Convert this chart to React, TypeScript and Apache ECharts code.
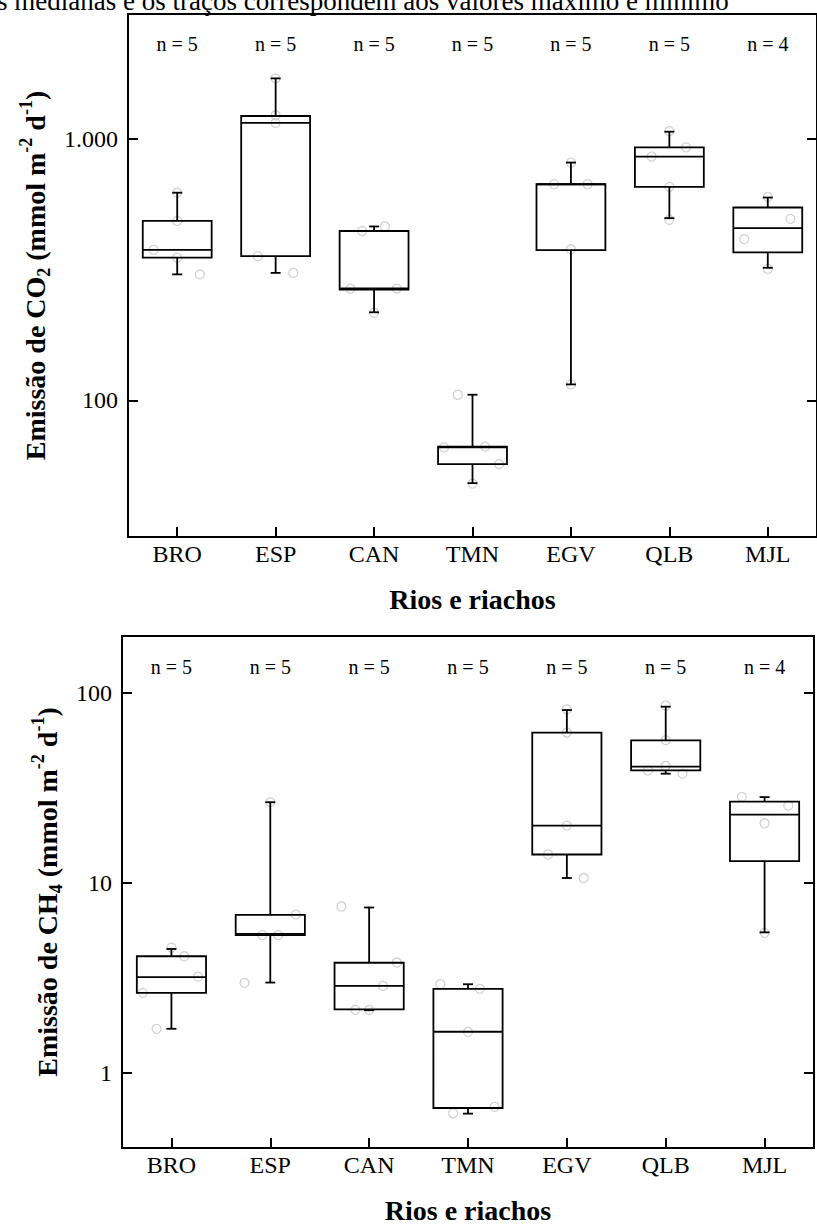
import React, { useEffect, useRef } from 'react';
import * as echarts from 'echarts';

const FONT = '"Liberation Serif", "Times New Roman", serif';

// Sites (rivers and streams)
const categories = ['BRO', 'ESP', 'CAN', 'TMN', 'EGV', 'QLB', 'MJL'];
const sampleSizes = [5, 5, 5, 5, 5, 5, 4];

// CO2 emission (mmol m-2 d-1): box statistics per site
const co2Min = [303, 307, 217, 48.2, 115, 497, 321];
const co2Q1 = [351, 356, 265, 57, 375, 655, 368];
const co2Median = [376, 1151, 268, 66, 670, 855, 455];
const co2Q3 = [485, 1222, 444, 66.5, 670, 927, 546];
const co2Max = [622, 1702, 462, 105, 811, 1064, 596];
// individual CO2 measurements and their horizontal spread (fraction of a band)
const co2Points = [
  [622, 485, 376, 351, 303],
  [1702, 1230, 1150, 356, 307],
  [462, 444, 267, 267, 216],
  [105, 66, 66.5, 57, 48],
  [811, 670, 670, 378, 115],
  [1070, 927, 855, 655, 490],
  [600, 494, 413, 318],
];
const co2Jitter = [
  [0, 0, -0.24, 0, 0.23],
  [0, 0, 0, -0.18, 0.18],
  [0.11, -0.12, -0.24, 0.23, 0],
  [-0.15, -0.29, 0.13, 0.27, 0],
  [0, -0.17, 0.17, 0, 0],
  [0, 0.17, -0.18, 0, 0],
  [0, 0.23, -0.24, 0],
];

// CH4 emission (mmol m-2 d-1): box statistics per site
const ch4Min = [1.7, 2.98, 2.13, 0.607, 10.6, 37.6, 5.48];
const ch4Q1 = [2.63, 5.3, 2.15, 0.65, 14.1, 39.1, 13.0];
const ch4Median = [3.18, 5.38, 2.86, 1.64, 20.0, 41.0, 22.9];
const ch4Q3 = [4.1, 6.78, 3.79, 2.76, 61.9, 56.4, 26.8];
const ch4Max = [4.48, 26.6, 7.41, 2.92, 81.4, 84.8, 28.3];
const ch4Points = [
  [4.55, 4.1, 3.2, 2.63, 1.7],
  [26.6, 6.8, 5.3, 5.3, 2.97],
  [7.5, 3.8, 2.86, 2.14, 2.14],
  [2.92, 2.76, 1.64, 0.66, 0.61],
  [82, 62, 20, 14.1, 10.6],
  [86, 56.5, 41.3, 39, 37.6],
  [28.4, 25.5, 20.6, 5.45],
];
const ch4Jitter = [
  [0, 0.13, 0.27, -0.29, -0.15],
  [0, 0.26, -0.08, 0.08, -0.26],
  [-0.28, 0.28, 0.14, -0.14, 0],
  [-0.28, 0.12, 0, 0.27, -0.15],
  [0, 0, 0, -0.19, 0.17],
  [0, 0, 0, -0.18, 0.17],
  [-0.23, 0.24, 0, 0],
];

// Axis ranges and tick labels
const co2Range = [30, 3000];
const co2TickValues = [100, 1000];
const co2TickLabels = ['100', '1.000'];
const ch4Range = [0.4, 200];
const ch4TickValues = [1, 10, 100];
const ch4TickLabels = ['1', '10', '100'];

const captionText = 's medianas e os traços correspondem aos valores máximo e mínimo';

function boxRows(mn: number[], q1: number[], md: number[], q3: number[], mx: number[]) {
  return categories.map((_, i) => [i, mn[i], q1[i], md[i], q3[i], mx[i]]);
}

function pointRows(points: number[][], jitter: number[][]) {
  const rows: number[][] = [];
  points.forEach((vals, i) => vals.forEach((v, k) => rows.push([i + jitter[i][k], v])));
  return rows;
}

const renderBox = (params: any, api: any) => {
  const i = api.value(0);
  const vMin = api.value(1);
  const vQ1 = api.value(2);
  const vMed = api.value(3);
  const vQ3 = api.value(4);
  const vMax = api.value(5);
  const x = api.coord([i, vMed])[0];
  const yMin = api.coord([i, vMin])[1];
  const yQ1 = api.coord([i, vQ1])[1];
  const yMed = api.coord([i, vMed])[1];
  const yQ3 = api.coord([i, vQ3])[1];
  const yMax = api.coord([i, vMax])[1];
  const half = api.size([1, 0], [i, vMed])[0] * 0.35;
  const cap = 5;
  const ln = { stroke: '#000', lineWidth: 1.8 };
  return {
    type: 'group',
    children: [
      { type: 'line', shape: { x1: x, y1: yQ3, x2: x, y2: yMax }, style: ln },
      { type: 'line', shape: { x1: x - cap, y1: yMax, x2: x + cap, y2: yMax }, style: ln },
      { type: 'line', shape: { x1: x, y1: yQ1, x2: x, y2: yMin }, style: ln },
      { type: 'line', shape: { x1: x - cap, y1: yMin, x2: x + cap, y2: yMin }, style: ln },
      {
        type: 'rect',
        shape: { x: x - half, y: yQ3, width: half * 2, height: yQ1 - yQ3 },
        style: { fill: 'none', stroke: '#000', lineWidth: 1.8 },
      },
      { type: 'line', shape: { x1: x - half, y1: yMed, x2: x + half, y2: yMed }, style: ln },
    ],
  };
};

const makeCountRender = (offset: number) => (params: any, api: any) => {
  const i = api.value(0);
  const x = api.coord([i, 100])[0];
  return {
    type: 'text',
    style: {
      x,
      y: params.coordSys.y + offset,
      text: 'n = ' + api.value(1),
      fontSize: 20,
      fontFamily: FONT,
      fill: '#000',
      align: 'center',
      verticalAlign: 'middle',
    },
  };
};

const richName = {
  b: { fontSize: 28, fontWeight: 'bold', fontFamily: FONT, color: '#000', lineHeight: 36 },
  sub: { fontSize: 18, fontWeight: 'bold', fontFamily: FONT, color: '#000', lineHeight: 18, verticalAlign: 'bottom' },
  sup: { fontSize: 18, fontWeight: 'bold', fontFamily: FONT, color: '#000', lineHeight: 18, verticalAlign: 'top' },
};

function categoryAxis(gridIndex: number) {
  return {
    gridIndex,
    type: 'category',
    data: categories,
    boundaryGap: true,
    axisLine: { show: true, onZero: false, lineStyle: { color: '#000', width: 2 } },
    axisTick: { show: true, inside: true, alignWithLabel: true, length: 10, lineStyle: { color: '#000', width: 2 } },
    axisLabel: { fontSize: 24, fontFamily: FONT, color: '#000', margin: 5 },
    splitLine: { show: false },
    name: 'Rios e riachos',
    nameLocation: 'middle',
    nameGap: 48,
    nameTextStyle: { fontSize: 28, fontWeight: 'bold', fontFamily: FONT, color: '#000' },
  };
}

function jitterAxis(gridIndex: number) {
  return { gridIndex, type: 'value', min: -0.5, max: 6.5, show: false, axisLine: { onZero: false } };
}

function logAxis(gridIndex: number, range: number[], ticks: number[], labels: string[], name: string, nameGap: number) {
  return {
    gridIndex,
    type: 'log',
    logBase: 10,
    min: range[0],
    max: range[1],
    position: 'left',
    axisLine: { show: true, onZero: false, lineStyle: { color: '#000', width: 2 } },
    axisTick: { show: true, inside: true, length: 10, customValues: ticks, lineStyle: { color: '#000', width: 2 } },
    axisLabel: {
      show: true,
      customValues: ticks,
      fontSize: 24,
      fontFamily: FONT,
      color: '#000',
      margin: 10,
      formatter: (v: number) => {
        const k = ticks.findIndex((t) => Math.abs(t - v) / t < 1e-6);
        return k >= 0 ? labels[k] : '';
      },
    },
    splitLine: { show: false },
    minorTick: { show: false },
    name,
    nameLocation: 'middle',
    nameRotate: 90,
    nameGap,
    nameTextStyle: { rich: richName },
  };
}

function mirrorAxis(gridIndex: number, range: number[], ticks: number[]) {
  return {
    gridIndex,
    type: 'log',
    logBase: 10,
    min: range[0],
    max: range[1],
    position: 'right',
    axisLine: { show: true, onZero: false, lineStyle: { color: '#000', width: 2 } },
    axisTick: { show: true, inside: true, length: 10, customValues: ticks, lineStyle: { color: '#000', width: 2 } },
    axisLabel: { show: false },
    splitLine: { show: false },
  };
}

const circleStyle = { color: 'rgba(255,255,255,0)', borderColor: '#c4c4c4', borderWidth: 1.2 };

export default function App() {
  const ref = useRef<HTMLDivElement>(null);

  useEffect(() => {
    if (!ref.current) return;
    const chart = echarts.init(ref.current, null, { renderer: 'svg' });
    chart.setOption({
      animation: false,
      backgroundColor: '#fff',
      grid: [
        { left: 128, top: 14, width: 700, height: 523, show: true, borderColor: '#000', borderWidth: 2, backgroundColor: 'transparent' },
        { left: 122, top: 636, width: 692, height: 515, show: true, borderColor: '#000', borderWidth: 2, backgroundColor: 'transparent' },
      ],
      xAxis: [categoryAxis(0), jitterAxis(0), categoryAxis(1), jitterAxis(1)],
      yAxis: [
        logAxis(0, co2Range, co2TickValues, co2TickLabels,
          '{b|Emissão de CO}{sub|2}{b| (mmol m}{sup|-2}{b| d}{sup|-1}{b|)}', 63),
        mirrorAxis(0, co2Range, co2TickValues),
        logAxis(1, ch4Range, ch4TickValues, ch4TickLabels,
          '{b|Emissão de CH}{sub|4}{b| (mmol m}{sup|-2}{b| d}{sup|-1}{b|)}', 57),
        mirrorAxis(1, ch4Range, ch4TickValues),
      ],
      graphic: [
        {
          type: 'text',
          left: -3,
          top: -13,
          style: { text: captionText, fontSize: 27, fontFamily: FONT, fill: '#000' },
        },
      ],
      series: [
        {
          type: 'scatter',
          xAxisIndex: 1,
          yAxisIndex: 0,
          data: pointRows(co2Points, co2Jitter),
          symbol: 'circle',
          symbolSize: 9,
          itemStyle: circleStyle,
          silent: true,
          z: 1,
        },
        {
          type: 'custom',
          xAxisIndex: 0,
          yAxisIndex: 0,
          data: boxRows(co2Min, co2Q1, co2Median, co2Q3, co2Max),
          encode: { x: 0, y: [1, 2, 3, 4, 5] },
          renderItem: renderBox,
          silent: true,
          z: 3,
        },
        {
          type: 'custom',
          xAxisIndex: 0,
          yAxisIndex: 0,
          data: sampleSizes.map((n, i) => [i, n]),
          encode: { x: 0 },
          renderItem: makeCountRender(30),
          silent: true,
          z: 3,
        },
        {
          type: 'scatter',
          xAxisIndex: 3,
          yAxisIndex: 2,
          data: pointRows(ch4Points, ch4Jitter),
          symbol: 'circle',
          symbolSize: 9,
          itemStyle: circleStyle,
          silent: true,
          z: 1,
        },
        {
          type: 'custom',
          xAxisIndex: 2,
          yAxisIndex: 2,
          data: boxRows(ch4Min, ch4Q1, ch4Median, ch4Q3, ch4Max),
          encode: { x: 0, y: [1, 2, 3, 4, 5] },
          renderItem: renderBox,
          silent: true,
          z: 3,
        },
        {
          type: 'custom',
          xAxisIndex: 2,
          yAxisIndex: 2,
          data: sampleSizes.map((n, i) => [i, n]),
          encode: { x: 0 },
          renderItem: makeCountRender(31),
          silent: true,
          z: 3,
        },
      ],
    });
    return () => chart.dispose();
  }, []);

  return (
    <div
      ref={ref}
      style={{ position: 'absolute', left: 0, top: 0, width: 817, height: 1225, background: '#fff' }}
    />
  );
}
